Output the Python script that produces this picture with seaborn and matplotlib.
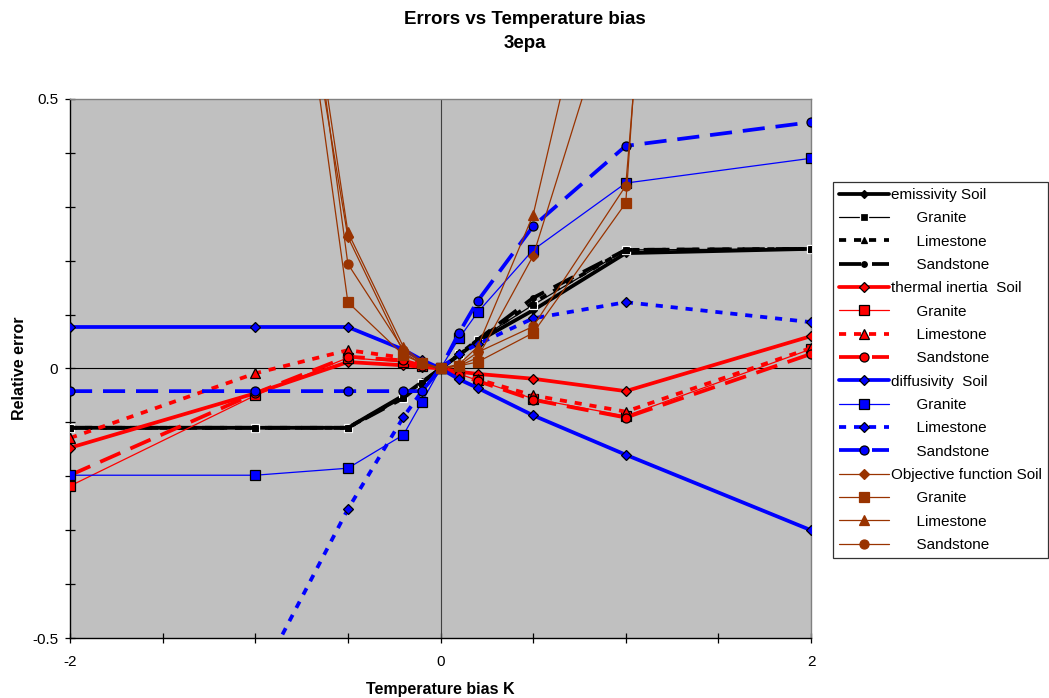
import numpy as np
import pandas as pd
import matplotlib
matplotlib.use("Agg")
import matplotlib.pyplot as plt
import seaborn as sns

# Temperature bias (K) at which each sensitivity run was made
bias = [-2, -1, -0.5, -0.2, -0.1, 0, 0.1, 0.2, 0.5, 1, 2]

# Relative error of each retrieved parameter, per surface type
emis_soil = [-0.11, -0.11, -0.11, -0.05, -0.025, 0, 0.025, 0.05, 0.108, 0.214, 0.222]
emis_granite = [-0.11, -0.11, -0.11, -0.055, -0.027, 0, 0.027, 0.053, 0.118, 0.22, 0.222]
emis_limestone = [-0.11, -0.11, -0.11, -0.052, -0.026, 0, 0.026, 0.053, 0.122, 0.22, 0.222]
emis_sandstone = [-0.11, -0.11, -0.11, -0.055, -0.027, 0, 0.025, 0.053, 0.131, 0.22, 0.222]

ti_soil = [-0.147, -0.046, 0.012, 0.006, 0.003, 0, -0.006, -0.01, -0.019, -0.042, 0.06]
ti_granite = [-0.218, -0.05, 0.02, 0.012, 0.005, 0, -0.01, -0.022, -0.056, -0.088, 0.036]
ti_limestone = [-0.129, -0.009, 0.034, 0.02, 0.01, 0, -0.01, -0.02, -0.05, -0.08, 0.038]
ti_sandstone = [-0.198, -0.046, 0.022, 0.015, 0.005, 0, -0.012, -0.023, -0.058, -0.091, 0.027]

diff_soil = [0.077, 0.077, 0.077, 0.035, 0.016, 0, -0.02, -0.036, -0.087, -0.16, -0.3]
diff_granite = [-0.198, -0.198, -0.185, -0.123, -0.062, 0, 0.056, 0.104, 0.22, 0.344, 0.39]
diff_limestone = [-1.0, -0.59, -0.261, -0.09, -0.042, 0, 0.027, 0.045, 0.093, 0.123, 0.086]
diff_sandstone = [-0.042, -0.042, -0.042, -0.042, -0.042, 0, 0.066, 0.125, 0.264, 0.413, 0.457]

obj_soil = [2.6, 1.27, 0.244, 0.03, 0.008, 0, 0.005, 0.02, 0.209, 0.76, 3.0]
obj_granite = [2.9, 1.37, 0.123, 0.025, 0.01, 0, 0.005, 0.012, 0.066, 0.307, 5.3]
obj_limestone = [3.0, 1.40, 0.253, 0.04, 0.012, 0, 0.008, 0.04, 0.285, 1.02, 5.0]
obj_sandstone = [3.1, 1.48, 0.194, 0.035, 0.01, 0, 0.006, 0.03, 0.078, 0.339, 4.5]

series_labels = [
    "emissivity Soil", "      Granite", "      Limestone", "      Sandstone",
    "thermal inertia  Soil", "      Granite", "      Limestone", "      Sandstone",
    "diffusivity  Soil", "      Granite", "      Limestone", "      Sandstone",
    "Objective function Soil", "      Granite", "      Limestone", "      Sandstone",
]
series_values = [
    emis_soil, emis_granite, emis_limestone, emis_sandstone,
    ti_soil, ti_granite, ti_limestone, ti_sandstone,
    diff_soil, diff_granite, diff_limestone, diff_sandstone,
    obj_soil, obj_granite, obj_limestone, obj_sandstone,
]

BLACK, RED, BLUE, BROWN = "#000000", "#FF0000", "#0000FF", "#993300"
solid = "-"
short_dash = (0, (1.9, 2.1))
long_dash = (0, (5.9, 2.9))
THICK, THIN = 2.7, 0.9

# line / marker appearance for each of the 16 series
styles = [
    dict(color=BLACK, lw=THICK, ls=solid, marker="D", ms=4.5, mfc=BLACK, mec=BLACK),
    dict(color=BLACK, lw=THIN, ls=solid, marker="s", ms=6, mfc=BLACK, mec="white"),
    dict(color=BLACK, lw=THICK, ls=short_dash, marker="^", ms=4, mfc=BLACK, mec=BLACK),
    dict(color=BLACK, lw=THICK, ls=long_dash, marker="o", ms=4, mfc=BLACK, mec=BLACK),
    dict(color=RED, lw=THICK, ls=solid, marker="D", ms=5, mfc=RED, mec=BLACK),
    dict(color=RED, lw=THIN, ls=solid, marker="s", ms=6.5, mfc=RED, mec=BLACK),
    dict(color=RED, lw=THICK, ls=short_dash, marker="^", ms=6.5, mfc=RED, mec=BLACK),
    dict(color=RED, lw=THICK, ls=long_dash, marker="o", ms=6.5, mfc=RED, mec=BLACK),
    dict(color=BLUE, lw=THICK, ls=solid, marker="D", ms=5, mfc=BLUE, mec=BLACK),
    dict(color=BLUE, lw=THIN, ls=solid, marker="s", ms=6.5, mfc=BLUE, mec=BLACK),
    dict(color=BLUE, lw=THICK, ls=short_dash, marker="D", ms=5, mfc=BLUE, mec=BLACK),
    dict(color=BLUE, lw=THICK, ls=long_dash, marker="o", ms=6.5, mfc=BLUE, mec=BLACK),
    dict(color=BROWN, lw=THIN, ls=solid, marker="D", ms=5, mfc=BROWN, mec=BROWN),
    dict(color=BROWN, lw=THIN, ls=solid, marker="s", ms=6.5, mfc=BROWN, mec=BROWN),
    dict(color=BROWN, lw=THIN, ls=solid, marker="^", ms=6.5, mfc=BROWN, mec=BROWN),
    dict(color=BROWN, lw=THIN, ls=solid, marker="o", ms=6.5, mfc=BROWN, mec=BROWN),
]

sns.set_theme(style="white")
plt.rcParams["font.family"] = ["Liberation Sans", "DejaVu Sans"]
plt.rcParams.update({
    "text.color": "black",
    "axes.labelcolor": "black",
    "xtick.color": "black",
    "ytick.color": "black",
})

fig = plt.figure(figsize=(10.49, 6.98), dpi=100)
ax = fig.add_axes([70 / 1049, 1 - 638 / 698, (811 - 70) / 1049, (638 - 99) / 698])
ax.set_facecolor("#C0C0C0")

# zero reference lines
ax.axhline(0, color="black", lw=0.8, zorder=1)
ax.axvline(0, color="#404040", lw=0.8, zorder=1)

handles = []
for label, values, st in zip(series_labels, series_values, styles):
    df = pd.DataFrame({"bias": bias, "error": values})
    sns.lineplot(
        data=df, x="bias", y="error", ax=ax, legend=False, estimator=None, sort=False,
        color=st["color"], linewidth=st["lw"], linestyle=st["ls"],
        marker=st["marker"], markersize=st["ms"],
        markerfacecolor=st["mfc"], markeredgecolor=st["mec"], markeredgewidth=0.9,
        label=label, zorder=3,
    )
    handles.append(ax.lines[-1])

ax.set_xlim(-2, 2)
ax.set_ylim(-0.5, 0.5)

ax.set_xticks(np.arange(-2, 2.01, 0.5))
ax.set_xticklabels(["-2", "", "", "", "0", "", "", "", "2"])
ax.set_yticks(np.round(np.arange(-0.5, 0.51, 0.1), 2))
ax.set_yticklabels(["-0.5", "", "", "", "", "0", "", "", "", "", "0.5"])
ax.tick_params(axis="both", which="major", direction="inout", length=7, width=0.9,
               color="black", labelsize=11, labelcolor="black",
               bottom=True, left=True)
ax.tick_params(axis="x", pad=9)
ax.tick_params(axis="y", pad=5)

for side in ("left", "bottom"):
    ax.spines[side].set_color("black")
    ax.spines[side].set_linewidth(1.0)
for side in ("top", "right"):
    ax.spines[side].set_color("#808080")
    ax.spines[side].set_linewidth(1.0)

ax.set_xlabel("Temperature bias K", fontsize=11.5, fontweight="bold", labelpad=9)
ax.set_ylabel("Relative error", fontsize=11.5, fontweight="bold", labelpad=4)

fig.text(0.5, 1 - 20 / 698, "Errors vs Temperature bias", ha="center", va="center",
         fontsize=13.5, fontweight="bold")
fig.text(0.5, 1 - 44 / 698, "3epa", ha="center", va="center",
         fontsize=13.5, fontweight="bold")

leg = fig.legend(
    handles, series_labels, loc="upper left",
    bbox_to_anchor=(833 / 1049, 1 - 182 / 698, (1048 - 833) / 1049, 0.0),
    mode="expand", frameon=True, fancybox=False, fontsize=11,
    handlelength=3.27, handletextpad=0.15, labelspacing=0.61, borderpad=0.4,
    borderaxespad=0, numpoints=1,
)
leg.get_frame().set_edgecolor("black")
leg.get_frame().set_linewidth(0.9)
leg.get_frame().set_facecolor("white")

fig.savefig("out.png", dpi=100, facecolor="white")
